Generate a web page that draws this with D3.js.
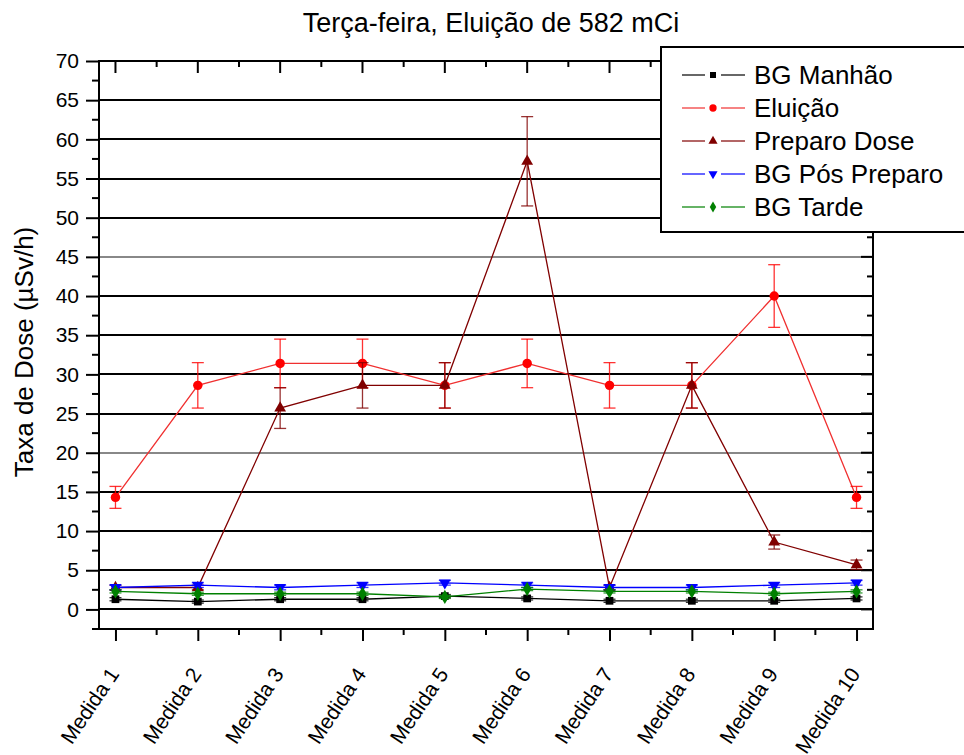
<!DOCTYPE html>
<html>
<head>
<meta charset="utf-8">
<title>Terça-feira</title>
<style>
body { margin: 0; background: #fff; }
text { font-family: "Liberation Sans", Arial, sans-serif; fill: #000; }
.grid line { stroke: #000; stroke-width: 2px; }
.frame { fill: none; stroke: #000; stroke-width: 2px; }
</style>
</head>
<body>
<script src="https://cdn.jsdelivr.net/npm/d3@7"></script>
<script>

// categories along x
var medidas = ["Medida 1", "Medida 2", "Medida 3", "Medida 4", "Medida 5",
               "Medida 6", "Medida 7", "Medida 8", "Medida 9", "Medida 10"];

// dose rate values (uSv/h)
var bgManha   = [1.3, 1.0, 1.3, 1.3, 1.7, 1.4, 1.1, 1.1, 1.1, 1.4];
var eluicao   = [14.3, 28.6, 31.4, 31.4, 28.6, 31.4, 28.6, 28.6, 40.0, 14.3];
var preparo   = [2.8, 2.8, 25.7, 28.6, 28.6, 57.2, 2.8, 28.6, 8.6, 5.7];
var bgPos     = [2.8, 3.1, 2.8, 3.1, 3.4, 3.1, 2.8, 2.8, 3.1, 3.4];
var bgTarde   = [2.3, 2.0, 2.0, 2.0, 1.6, 2.6, 2.3, 2.3, 2.0, 2.3];

// error bar half heights
var errManha   = [0.2, 0.2, 0.2, 0.2, 0.2, 0.2, 0.2, 0.2, 0.2, 0.2];
var errEluicao = [1.4, 2.9, 3.1, 3.1, 2.9, 3.1, 2.9, 2.9, 4.0, 1.4];
var errPreparo = [0.3, 0.3, 2.6, 2.9, 2.9, 5.7, 0.3, 2.9, 0.9, 0.6];
var errPos     = [0.3, 0.3, 0.3, 0.3, 0.3, 0.3, 0.3, 0.3, 0.3, 0.3];
var errTarde   = [0.2, 0.2, 0.2, 0.2, 0.2, 0.2, 0.2, 0.2, 0.2, 0.2];

var yTicks = [0, 5, 10, 15, 20, 25, 30, 35, 40, 45, 50, 55, 60, 65, 70];

var series = [
  {name: "BG Manhão",       values: bgManha,  err: errManha,   color: "#000000", line: "#000000", symbol: d3.symbolSquare,   size: 60, rot: 0},
  {name: "Eluição",         values: eluicao,  err: errEluicao, color: "#ff0000", line: "#f03030", symbol: d3.symbolCircle,   size: 70, rot: 0},
  {name: "Preparo Dose",    values: preparo,  err: errPreparo, color: "#800000", line: "#800000", symbol: d3.symbolTriangle, size: 60, rot: 0},
  {name: "BG Pós Preparo",  values: bgPos,    err: errPos,     color: "#0000ff", line: "#0000ff", symbol: d3.symbolTriangle, size: 60, rot: 180},
  {name: "BG Tarde",        values: bgTarde,  err: errTarde,   color: "#008000", line: "#008000", symbol: d3.symbolDiamond,  size: 60, rot: 0}
];

var width = 964, height = 755;
var mLeft = 99, mRight = 873, mTop = 61, mBottom = 629;

var svg = d3.select("body").append("svg")
    .attr("width", width)
    .attr("height", height);

var x = d3.scaleLinear().domain([0.8, 10.2]).range([mLeft, mRight]);
var y = d3.scaleLinear().domain([-2.5, 70]).range([mBottom, mTop]);

// title
svg.append("text")
    .attr("x", 491)
    .attr("y", 32)
    .attr("text-anchor", "middle")
    .style("font-size", "27px")
    .text("Terça-feira, Eluição de 582 mCi");

// horizontal grid lines
svg.append("g")
    .attr("class", "grid")
    .selectAll("line")
    .data(yTicks.slice(0, -1))
    .enter().append("line")
    .attr("x1", mLeft).attr("x2", mRight)
    .attr("y1", function(d) { return Math.round(y(d)); })
    .attr("y2", function(d) { return Math.round(y(d)); })
    .style("stroke", function(d) { return (d == 20 || d == 45) ? "#888" : "#000"; });

// left axis
var yAxis = d3.axisLeft(y).tickValues(yTicks).tickSize(13).tickPadding(7);
var gy = svg.append("g").attr("transform", "translate(" + mLeft + ",0)").call(yAxis);
gy.select(".domain").remove();
gy.selectAll(".tick line").style("stroke-width", "2px");
gy.selectAll(".tick text").style("font-size", "21px").attr("font-family", null);

// minor y ticks
var minorY = d3.range(-2.5, 70, 5);
svg.append("g").selectAll("line")
    .data(minorY)
    .enter().append("line")
    .attr("x1", mLeft - 7).attr("x2", mLeft)
    .attr("y1", function(d) { return y(d); })
    .attr("y2", function(d) { return y(d); })
    .style("stroke", "#000").style("stroke-width", "2px");

// right axis ticks (inward)
svg.append("g").selectAll("line")
    .data(yTicks.concat(minorY))
    .enter().append("line")
    .attr("x1", function(d) { return mRight - (d % 5 == 0 ? 12 : 6); })
    .attr("x2", mRight)
    .attr("y1", function(d) { return y(d); })
    .attr("y2", function(d) { return y(d); })
    .style("stroke", "#000").style("stroke-width", "2px");

// bottom axis
var idx = d3.range(1, 11);
var xAxis = d3.axisBottom(x).tickValues(idx).tickSize(12).tickFormat(function(d) { return medidas[d - 1]; });
var gx = svg.append("g").attr("transform", "translate(0," + mBottom + ")").call(xAxis);
gx.select(".domain").remove();
gx.selectAll(".tick line").style("stroke-width", "2px");
gx.selectAll(".tick text")
    .style("font-size", "21px")
    .attr("text-anchor", "end")
    .attr("dy", 0)
    .attr("y", 0).attr("x", 0)
    .attr("transform", "translate(4,45) rotate(-56)");

var minorX = d3.range(1.5, 10, 1);
svg.append("g").selectAll("line")
    .data(minorX)
    .enter().append("line")
    .attr("x1", function(d) { return x(d); })
    .attr("x2", function(d) { return x(d); })
    .attr("y1", mBottom).attr("y2", mBottom + 6)
    .style("stroke", "#000").style("stroke-width", "2px");

// top ticks (inward)
svg.append("g").selectAll("line")
    .data(idx.concat(minorX))
    .enter().append("line")
    .attr("x1", function(d) { return x(d); })
    .attr("x2", function(d) { return x(d); })
    .attr("y1", mTop)
    .attr("y2", function(d) { return mTop + (d % 1 == 0 ? 12 : 6); })
    .style("stroke", "#000").style("stroke-width", "2px");

// y axis label
svg.append("text")
    .attr("transform", "translate(33,352) rotate(-90)")
    .attr("text-anchor", "middle")
    .style("font-size", "26px")
    .text("Taxa de Dose (µSv/h)");

// series
var line = d3.line()
    .x(function(d, i) { return x(i + 1); })
    .y(function(d) { return y(d); });

series.forEach(function(s) {
  var g = svg.append("g");

  g.append("path")
      .attr("d", line(s.values))
      .style("fill", "none")
      .style("stroke", s.line)
      .style("stroke-width", "1.3px");

  // error bars
  var eb = g.selectAll(".eb")
      .data(s.values)
      .enter().append("g");
  eb.append("line")
      .attr("x1", function(d, i) { return x(i + 1); })
      .attr("x2", function(d, i) { return x(i + 1); })
      .attr("y1", function(d, i) { return y(d - s.err[i]); })
      .attr("y2", function(d, i) { return y(d + s.err[i]); });
  eb.append("line")
      .attr("x1", function(d, i) { return x(i + 1) - 6; })
      .attr("x2", function(d, i) { return x(i + 1) + 6; })
      .attr("y1", function(d, i) { return y(d - s.err[i]); })
      .attr("y2", function(d, i) { return y(d - s.err[i]); });
  eb.append("line")
      .attr("x1", function(d, i) { return x(i + 1) - 6; })
      .attr("x2", function(d, i) { return x(i + 1) + 6; })
      .attr("y1", function(d, i) { return y(d + s.err[i]); })
      .attr("y2", function(d, i) { return y(d + s.err[i]); });
  eb.selectAll("line").style("stroke", s.color).style("stroke-width", "1.3px").style("opacity", 0.8);

  g.selectAll(".pt")
      .data(s.values)
      .enter().append("path")
      .attr("d", d3.symbol().type(s.symbol).size(s.size))
      .attr("transform", function(d, i) {
        return "translate(" + x(i + 1) + "," + y(d) + ") rotate(" + s.rot + ")";
      })
      .style("fill", s.color);
});

// frame
svg.append("rect")
    .attr("class", "frame")
    .attr("x", mLeft).attr("y", mTop)
    .attr("width", mRight - mLeft).attr("height", mBottom - mTop);

// legend
var lg = svg.append("g");
lg.append("rect")
    .attr("x", 661).attr("y", 47)
    .attr("width", 320).attr("height", 185)
    .style("fill", "#fff").style("stroke", "#000").style("stroke-width", "2px");

var row = lg.selectAll(".row")
    .data(series)
    .enter().append("g")
    .attr("transform", function(d, i) { return "translate(0," + (75 + i * 33) + ")"; });
row.append("line").attr("x1", 682).attr("x2", 705).attr("y1", 0).attr("y2", 0)
    .style("stroke", function(d) { return d.line; }).style("stroke-width", "1.2px");
row.append("line").attr("x1", 721).attr("x2", 745).attr("y1", 0).attr("y2", 0)
    .style("stroke", function(d) { return d.line; }).style("stroke-width", "1.2px");
row.append("path")
    .attr("d", function(d) { return d3.symbol().type(d.symbol).size(d.size * 0.6)(); })
    .attr("transform", function(d) { return "translate(713,0) rotate(" + d.rot + ")"; })
    .style("fill", function(d) { return d.color; });
row.append("text")
    .attr("x", 754).attr("y", 0).attr("dy", "0.35em")
    .style("font-size", "26px")
    .text(function(d) { return d.name; });

</script>
</body>
</html>
